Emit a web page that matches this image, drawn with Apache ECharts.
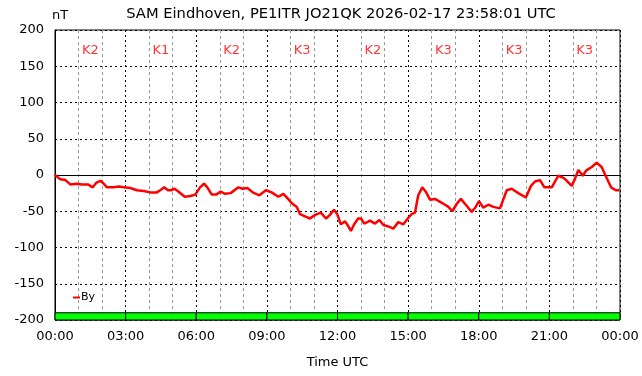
<!DOCTYPE html>
<html>
<head>
<meta charset="utf-8">
<script src="https://cdn.jsdelivr.net/npm/echarts@6/dist/echarts.min.js"></script>
<style>
html,body{margin:0;padding:0;background:#fff;}
#chart{width:642px;height:376px;}
</style>
</head>
<body>
<div id="chart"></div>
<script>
// Time in hours UTC (0..24) and By in nT
var hours = [0.0,0.04,0.23,0.44,0.65,0.93,1.15,1.40,1.60,1.75,1.93,2.04,2.21,2.49,2.70,2.92,3.20,3.48,3.77,4.05,4.33,4.47,4.64,4.80,4.93,5.08,5.25,5.51,5.75,5.96,6.16,6.33,6.47,6.66,6.84,7.04,7.22,7.46,7.79,7.97,8.17,8.40,8.68,8.96,9.20,9.49,9.70,9.87,10.06,10.27,10.41,10.62,10.83,11.05,11.29,11.51,11.68,11.85,11.99,12.14,12.32,12.43,12.57,12.71,12.88,13.00,13.14,13.38,13.59,13.78,13.95,14.16,14.37,14.58,14.80,15.01,15.15,15.29,15.43,15.60,15.75,15.93,16.14,16.36,16.57,16.71,16.88,17.06,17.24,17.45,17.70,17.87,18.01,18.19,18.41,18.62,18.90,19.04,19.19,19.40,19.68,20.00,20.22,20.39,20.60,20.79,21.10,21.38,21.60,21.74,21.95,22.09,22.23,22.42,22.56,22.80,23.01,23.22,23.39,23.62,23.82,23.97];
var byValues = [0,-2,-6,-7,-13,-12,-13,-13,-17,-11,-8,-11,-17,-17,-16,-17,-18,-21,-22,-24,-24,-21,-17,-21,-21,-19,-23,-30,-29,-27,-17,-12,-17,-27,-27,-23,-26,-25,-17,-19,-18,-24,-28,-21,-24,-30,-26,-32,-39,-44,-54,-57,-60,-55,-52,-60,-55,-48,-54,-68,-64,-69,-77,-68,-60,-60,-67,-63,-67,-62,-69,-71,-74,-65,-68,-59,-54,-52,-28,-17,-23,-34,-33,-37,-41,-44,-50,-40,-33,-41,-51,-44,-36,-45,-41,-44,-46,-34,-21,-19,-25,-31,-15,-9,-7,-17,-17,-1,-4,-8,-15,-5,7,-1,6,11,17,11,-1,-17,-21,-21];
// K index per 3-hour block
var kStart = [0,3,6,9,12,15,18,21];
var kLabels = ['K2','K1','K2','K3','K2','K3','K3','K3'];
var xTickLabels = ['00:00','03:00','06:00','09:00','12:00','15:00','18:00','21:00','00:00'];
var kLabelLevel = 172;
var kBarBottom = -200, kBarTop = -190;

var lineData = hours.map(function(h,i){return [h, byValues[i]];});
var kPoints = kStart.map(function(s){return [s+1.5, kLabelLevel];});
var kAreas = kStart.map(function(s){return [{xAxis:s, yAxis:kBarBottom},{xAxis:s+3, yAxis:kBarTop}];});

var FONT = 'DejaVu Sans';
var chart = echarts.init(document.getElementById('chart'), null, {renderer:'canvas'});
chart.setOption({
  animation:false,
  backgroundColor:'#fff',
  textStyle:{fontFamily:FONT},
  title:{
    text:'SAM Eindhoven, PE1ITR JO21QK 2026-02-17 23:58:01 UTC',
    left:336, top:2, textAlign:'center',
    textStyle:{fontFamily:FONT, fontSize:14.7, fontWeight:'normal', color:'#000'}
  },
  legend:{
    data:['By'], left:68, top:287, icon:'rect', itemWidth:7, itemHeight:2,
    textStyle:{fontFamily:FONT, fontSize:11, color:'#000', padding:[0,0,0,-4]}
  },
  grid:{left:55, right:22, top:30, bottom:56, show:true, borderColor:'#000', borderWidth:1, backgroundColor:'transparent'},
  xAxis:{
    type:'value', min:0, max:24, interval:3,
    name:'Time UTC', nameLocation:'middle', nameGap:36,
    nameTextStyle:{fontFamily:FONT, fontSize:13, color:'#000'},
    axisLine:{show:true, lineStyle:{color:'#000'}},
    axisTick:{show:false},
    axisLabel:{fontFamily:FONT, fontSize:13, color:'#000', margin:10,
      formatter:function(v){return xTickLabels[Math.round(v/3)];}},
    splitLine:{show:true, lineStyle:{color:'#000', type:[2,3], width:1}},
    minorTick:{show:false, splitNumber:3},
    minorSplitLine:{show:true, lineStyle:{color:'#999', type:[3,3], width:1}}
  },
  yAxis:{
    type:'value', min:-200, max:200, interval:50,
    name:'nT', nameLocation:'end', nameGap:8,
    nameTextStyle:{fontFamily:FONT, fontSize:13, color:'#000', align:'left', padding:[0,0,0,-3]},
    axisLine:{show:true, lineStyle:{color:'#000'}},
    axisTick:{show:false},
    axisLabel:{fontFamily:FONT, fontSize:13, color:'#000', margin:11},
    splitLine:{show:true, lineStyle:{color:'#000', type:[2,3], width:1}}
  },
  series:[
    {
      name:'By', type:'line', data:lineData, showSymbol:false, symbol:'none',
      lineStyle:{color:'#ff0000', width:2.5}, itemStyle:{color:'#ff0000'},
      z:5,
      markArea:{silent:true, itemStyle:{color:'#00ff00', borderColor:'#000', borderWidth:1}, data:kAreas, z:3}
    },
    {
      name:'K', type:'scatter', data:kPoints, symbolSize:0, silent:true,
      label:{show:true, position:'inside', fontFamily:FONT, fontSize:13, color:'#ff0000',
        formatter:function(p){return kLabels[p.dataIndex];}}
    }
  ]
});
</script>
</body>
</html>
